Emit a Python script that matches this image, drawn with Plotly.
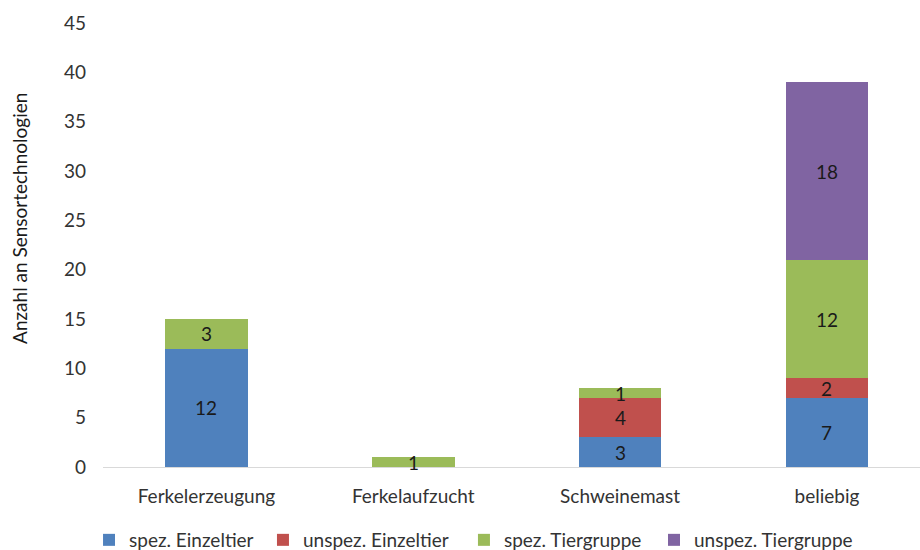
import plotly.graph_objects as go

categories = ["Ferkelerzeugung", "Ferkelaufzucht", "Schweinemast", "beliebig"]
series_names = ["spez. Einzeltier", "unspez. Einzeltier", "spez. Tiergruppe", "unspez. Tiergruppe"]
spez_einzeltier = [12, 0, 3, 7]
unspez_einzeltier = [0, 0, 4, 2]
spez_tiergruppe = [3, 1, 1, 12]
unspez_tiergruppe = [0, 0, 0, 18]
y_ticks = [0, 5, 10, 15, 20, 25, 30, 35, 40, 45]
y_title = "Anzahl an Sensortechnologien"

colors = ["#4F81BD", "#C0504D", "#9BBB59", "#8064A2"]
font_family = "Lato, 'Liberation Sans', sans-serif"
series = [spez_einzeltier, unspez_einzeltier, spez_tiergruppe, unspez_tiergruppe]

# one legend box per series so each entry sits at its own position
legend_ids = ["legend", "legend2", "legend3", "legend4"]
legend_x = [-0.0171, 0.1958, 0.4418, 0.6744]

fig = go.Figure()
for name, vals, col, lg in zip(series_names, series, colors, legend_ids):
    fig.add_trace(go.Bar(
        x=list(range(len(categories))), y=vals, name=name,
        marker=dict(color=col, line=dict(width=0)),
        width=0.4, hoverinfo="skip", legend=lg,
    ))

# value labels centred in each segment
base = [0] * len(categories)
for vals in series:
    for i, v in enumerate(vals):
        if v > 0:
            fig.add_annotation(
                x=i, y=base[i] + v / 2, text=str(v), showarrow=False,
                font=dict(size=19, color="#1a1a1a", family=font_family),
                xref="x", yref="y",
            )
        base[i] += v

# rotated y-axis title
fig.add_annotation(
    x=-0.1016, y=0.561, xref="paper", yref="paper", text=y_title,
    textangle=-90, showarrow=False, xanchor="center", yanchor="middle",
    font=dict(size=19, color="#1a1a1a", family=font_family),
)

legend_style = dict(
    orientation="h", xanchor="left", y=-0.1644, yanchor="middle",
    font=dict(size=19, color="#333333"), bgcolor="rgba(0,0,0,0)",
    itemclick=False, itemwidth=30,
)
layout_legends = {lg: dict(legend_style, x=lx) for lg, lx in zip(legend_ids, legend_x)}

fig.update_layout(
    barmode="stack",
    width=920, height=550,
    margin=dict(l=103, r=0, t=23, b=83, autoexpand=False),
    paper_bgcolor="white", plot_bgcolor="white",
    font=dict(family=font_family, size=19, color="#333333"),
    showlegend=True,
    xaxis=dict(
        tickmode="array", tickvals=list(range(len(categories))), ticktext=categories,
        range=[-0.5, 3.45], showline=True, linecolor="#D9D9D9", linewidth=1,
        showgrid=False, zeroline=False, ticks="", ticklen=0, ticklabelstandoff=12,
        tickfont=dict(size=19, color="#333333"),
    ),
    yaxis=dict(
        range=[0, 45], tickmode="array", tickvals=y_ticks, showgrid=False,
        zeroline=False, showline=False, ticks="", ticklabelstandoff=16,
        tickfont=dict(size=19, color="#333333"),
    ),
    **layout_legends,
)

fig.write_html("out.html")
